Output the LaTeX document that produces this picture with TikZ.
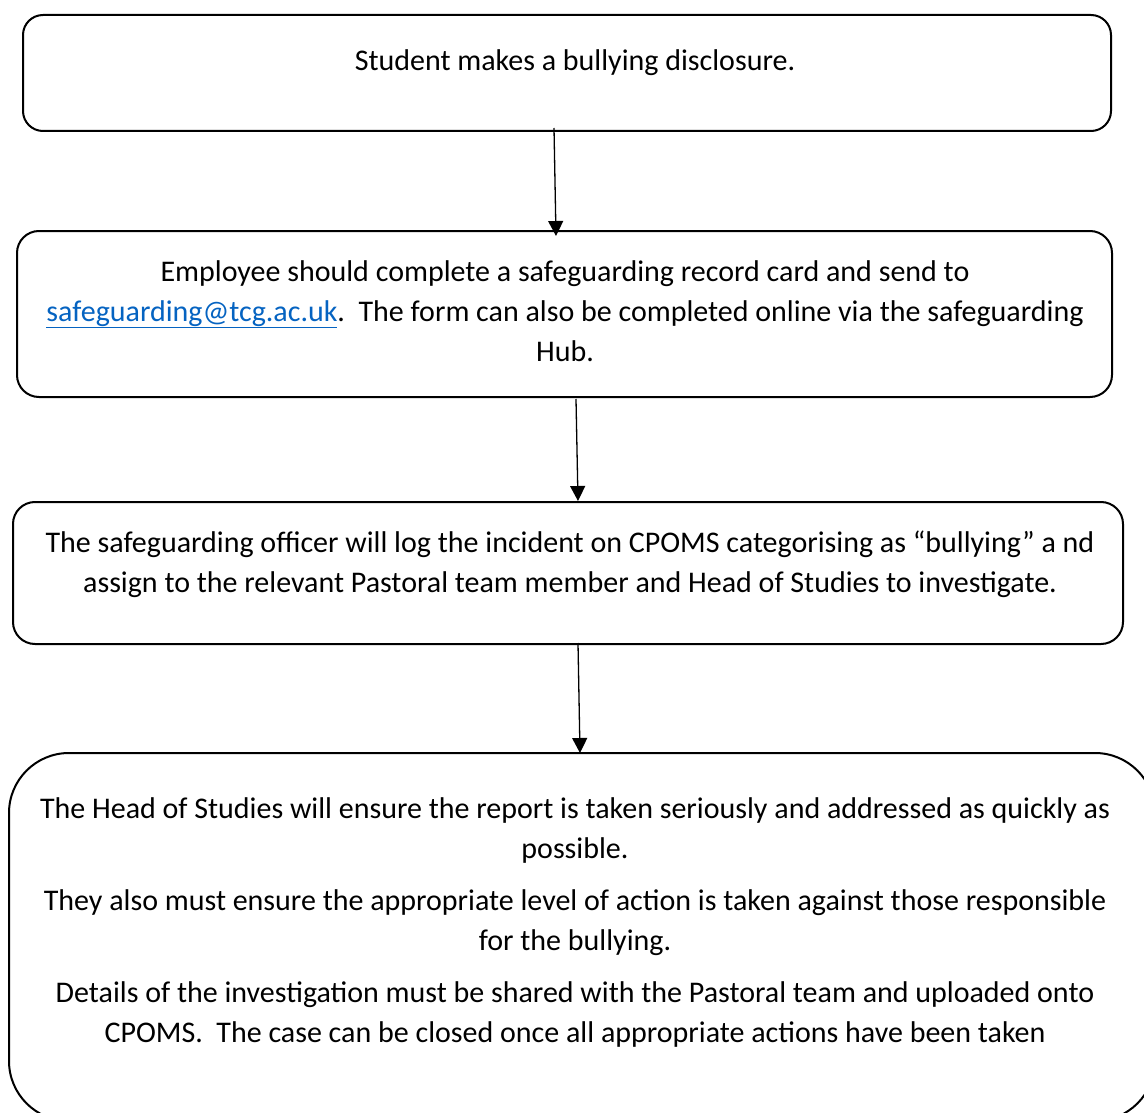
\documentclass[tikz,border=0pt]{standalone}
\usepackage{fontspec}
\setmainfont{Carlito}
\usetikzlibrary{arrows.meta,positioning}
\definecolor{linkblue}{RGB}{5,99,193}

\begin{document}
\begin{tikzpicture}[x=1pt,y=-1pt,
    stage/.style={draw,line width=2pt,rounded corners=20pt,inner sep=0pt},
    words/.style={anchor=base,align=center,inner sep=0pt,font=\fontsize{30}{40}\selectfont},
    arrow/.style={-{Triangle[width=15pt,length=15pt]},line width=1.3pt}
]
\clip (0,0) rectangle (1144,1113);

% === Step 1: disclosure ===
\node[stage,minimum width=1088pt,minimum height=116pt] (disclose) at (567,73) {};
\node[words] (disclosetxt) at (575,71) {Student makes a bullying disclosure.};

% === Step 2: record card ===
% (base of a multi-line node sits on its last line)
\node[stage,minimum width=1095pt,minimum height=166pt,rounded corners=22pt] (record) at (564.5,314) {};
\node[words] (recordtxt) at (565,361) {
    Employee should complete a safeguarding record card and send to\\
    \textcolor{linkblue}{\underline{safeguarding@tcg.ac.uk}}.\ \ The form can also be completed online via the safeguarding\\
    Hub.
};

% === Step 3: logging on CPOMS ===
\node[stage,minimum width=1110pt,minimum height=142pt,rounded corners=22pt] (logcase) at (568,573) {};
\node[words] (logcasetxt) at (570,592) {
    The safeguarding officer will log the incident on CPOMS categorising as “bullying” a nd\\
    assign to the relevant Pastoral team member and Head of Studies to investigate.
};

% === Step 4: Head of Studies (runs off the page) ===
\node[stage,minimum width=1146pt,minimum height=368pt,rounded corners=60pt] (review) at (582,937) {};
\node[words] (reviewtxt) at (575,1042) {
    The Head of Studies will ensure the report is taken seriously and addressed as quickly as\\
    possible.\\[12pt]
    They also must ensure the appropriate level of action is taken against those responsible\\
    for the bullying.\\[12pt]
    Details of the investigation must be shared with the Pastoral team and uploaded onto\\
    CPOMS.\ \ The case can be closed once all appropriate actions have been taken
};

% === Arrows ===
\draw[arrow] ([xshift=-13pt,yshift=4pt]disclose.south) -- ([xshift=-8.5pt,yshift=-6pt]record.north);
\draw[arrow] ([xshift=11.5pt,yshift=-1pt]record.south) -- ([xshift=10pt]logcase.north);
\draw[arrow] ([xshift=10pt,yshift=2pt]logcase.south) -- ([xshift=-2pt,yshift=-1pt]review.north);

\end{tikzpicture}
\end{document}
